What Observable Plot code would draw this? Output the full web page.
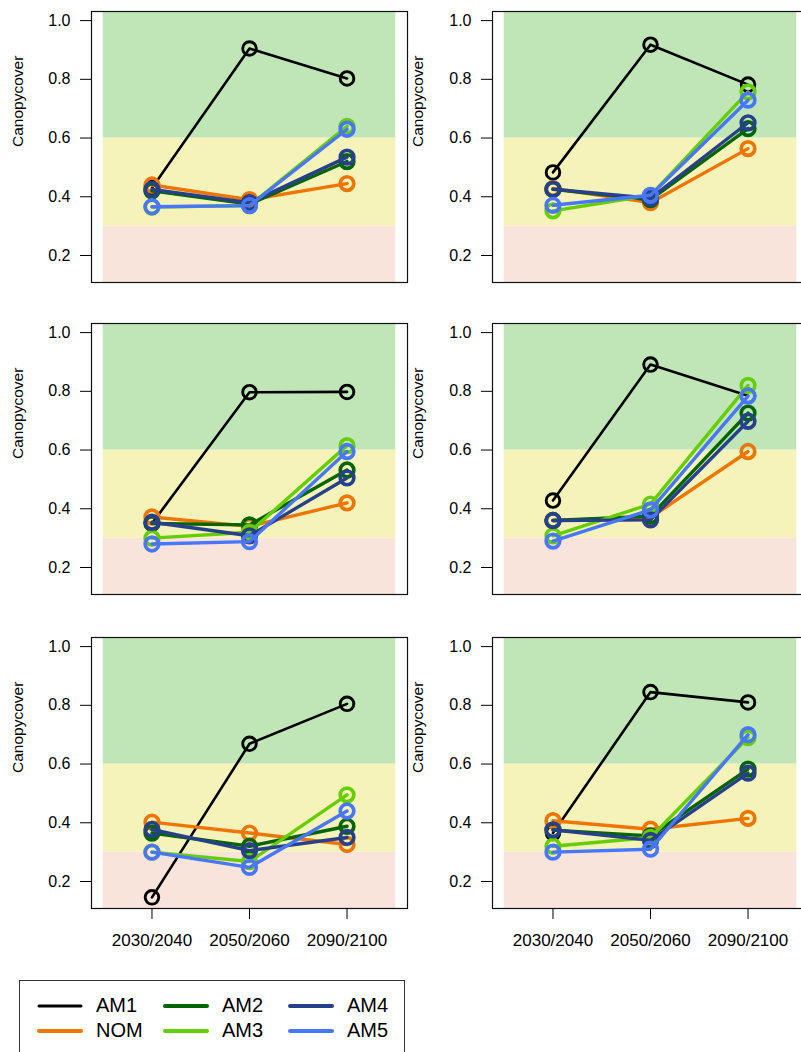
<!DOCTYPE html>
<html>
<head>
<meta charset="utf-8">
<script src="https://cdn.jsdelivr.net/npm/d3@7"></script>
<script src="https://cdn.jsdelivr.net/npm/@observablehq/plot@0.6"></script>
<style>
  html, body { margin: 0; padding: 0; background: white; overflow: hidden; }
  body { width: 801px; height: 1052px; position: relative; font-family: "Liberation Sans", Arial, sans-serif; }
  .panel { position: absolute; }
  #legend { position: absolute; left: 19px; top: 980px; width: 386px; height: 90px; border: 1px solid #333; box-sizing: border-box; }
  .lg { position: absolute; font-size: 20px; line-height: 20px; color: black; }
</style>
</head>
<body>
<div id="legend"></div>
<script>
// ---- data ----
const periods = ["2030/2040", "2050/2060", "2090/2100"];
const series = ["AM1", "NOM", "AM2", "AM3", "AM4", "AM5"];
const colors = ["#000000", "#EE7600", "#006400", "#66CD00", "#27408B", "#4876FF"];
const yTicks = [0.2, 0.4, 0.6, 0.8, 1.0];
const bandBreaks = [0.3, 0.6];
const bandColors = ["#F8E4DA", "#F5F3B9", "#C0E6B8"];

// rows follow series order: AM1, NOM, AM2, AM3, AM4, AM5
const panel1 = [[0.43, 0.905, 0.803], [0.44, 0.39, 0.445], [0.42, 0.375, 0.52], [0.365, 0.37, 0.64], [0.425, 0.38, 0.535], [0.366, 0.37, 0.63]];
const panel2 = [[0.483, 0.918, 0.782], [0.428, 0.38, 0.564], [0.425, 0.39, 0.632], [0.352, 0.405, 0.757], [0.426, 0.395, 0.652], [0.371, 0.405, 0.729]];
const panel3 = [[0.35, 0.797, 0.798], [0.372, 0.34, 0.42], [0.35, 0.345, 0.532], [0.30, 0.32, 0.615], [0.354, 0.308, 0.505], [0.28, 0.288, 0.595]];
const panel4 = [[0.428, 0.891, 0.785], [0.36, 0.37, 0.595], [0.36, 0.375, 0.726], [0.308, 0.416, 0.82], [0.36, 0.362, 0.698], [0.29, 0.396, 0.784]];
const panel5 = [[0.146, 0.669, 0.805], [0.402, 0.365, 0.326], [0.365, 0.32, 0.388], [0.30, 0.268, 0.495], [0.377, 0.305, 0.35], [0.30, 0.248, 0.44]];
const panel6 = [[0.365, 0.845, 0.81], [0.407, 0.378, 0.415], [0.375, 0.355, 0.583], [0.32, 0.35, 0.69], [0.376, 0.34, 0.569], [0.30, 0.31, 0.70]];
const panels = [panel1, panel2, panel3, panel4, panel5, panel6];

// ---- layout ----
const xDomain = [0.38, 3.62];
const yDomain = [0.108, 1.031];
const rowTops = [0, 312, 626];
const plotH = 271;

function makePanel(vals, col, row) {
  const bottom = row === 2;
  const W = col === 0 ? 410 : 420;
  const mL = col === 0 ? 91 : 92;
  const mR = col === 0 ? 3 : 12;
  const mT = 11;
  const mB = bottom ? 50 : 18;
  const data = [];
  vals.forEach((arr, si) => arr.forEach((v, i) => data.push({s: series[si], x: i + 1, v})));
  const bands = [
    {y1: yDomain[0], y2: bandBreaks[0], fill: bandColors[0]},
    {y1: bandBreaks[0], y2: bandBreaks[1], fill: bandColors[1]},
    {y1: bandBreaks[1], y2: yDomain[1], fill: bandColors[2]}
  ];
  const marks = [
    Plot.rect(bands, {x1: () => 0.5, x2: () => 3.5, y1: "y1", y2: "y2", fill: "fill"}),
    Plot.frame({stroke: "#111", strokeWidth: 1.2})
  ];
  series.forEach((s, si) => {
    const d = data.filter(r => r.s === s);
    const lw = si === 0 ? 2.6 : 3.4;
    marks.push(Plot.line(d, {x: "x", y: "v", stroke: colors[si], strokeWidth: lw}));
    marks.push(Plot.dot(d, {x: "x", y: "v", r: 6.8, stroke: colors[si], strokeWidth: lw + 0.3, fill: "none"}));
  });
  marks.push(Plot.axisY(yTicks, {tickSize: 11, tickPadding: 10, tickFormat: d3.format(".1f"), label: null, fontSize: 16}));
  marks.push(Plot.text(["Canopycover"], {frameAnchor: "left", rotate: -90, dx: -(mL - 18), fontSize: 15.5, fill: "black"}));
  if (bottom) {
    marks.push(Plot.axisX([1, 2, 3], {tickSize: 11, tickPadding: 14, tickFormat: (d) => periods[d - 1], label: null, fontSize: 17}));
  }
  const svg = Plot.plot({
    width: W,
    height: mT + plotH + mB,
    marginLeft: mL, marginRight: mR, marginTop: mT, marginBottom: mB,
    style: {background: "none", fontFamily: "'Liberation Sans', Arial, sans-serif", fontSize: "16px", color: "black"},
    x: {domain: xDomain, axis: null},
    y: {domain: yDomain, axis: null},
    marks
  });
  svg.classList.add("panel");
  svg.style.left = (col === 0 ? 0 : 400) + "px";
  svg.style.top = rowTops[row] + "px";
  svg.style.maxWidth = "none";
  document.body.appendChild(svg);
}

panels.forEach((p, i) => makePanel(p, i % 2, Math.floor(i / 2)));

// ---- legend ----
const legend = document.getElementById("legend");
const legCols = [[0, 1], [2, 3], [4, 5]];
legCols.forEach((idxs, c) => {
  idxs.forEach((si, r) => {
    const x0 = [17, 143, 268][c];
    const y0 = 25 + r * 25;
    const sw = document.createElementNS("http://www.w3.org/2000/svg", "svg");
    sw.setAttribute("width", 46); sw.setAttribute("height", 10);
    sw.style.position = "absolute";
    sw.style.left = x0 + "px"; sw.style.top = (y0 - 5) + "px";
    const ln = document.createElementNS("http://www.w3.org/2000/svg", "line");
    ln.setAttribute("x1", 2); ln.setAttribute("x2", 44); ln.setAttribute("y1", 5); ln.setAttribute("y2", 5);
    ln.setAttribute("stroke", colors[si]); ln.setAttribute("stroke-width", si === 0 ? 3 : 4);
    ln.setAttribute("stroke-linecap", "round");
    sw.appendChild(ln);
    legend.appendChild(sw);
    const t = document.createElement("div");
    t.className = "lg";
    t.textContent = series[si];
    t.style.left = (x0 + 59) + "px";
    t.style.top = (y0 - 11) + "px";
    legend.appendChild(t);
  });
});
</script>
</body>
</html>
